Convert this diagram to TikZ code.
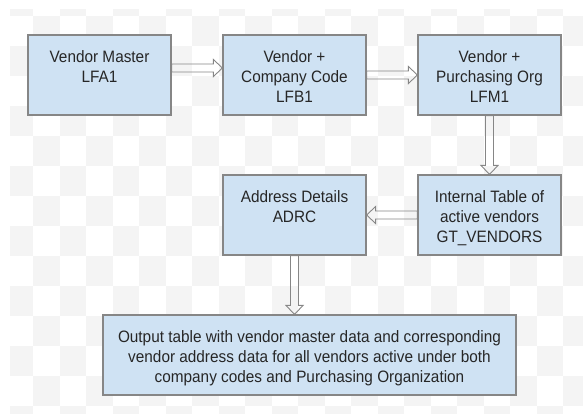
\documentclass[tikz,border=0pt]{standalone}
\usepackage{fontspec}
\usepackage{tikz}
\usetikzlibrary{calc}

\newfontfamily\drawfont[FakeStretch=0.93]{Liberation Sans}

\definecolor{boxfill}{HTML}{CFE2F3}
\definecolor{boxline}{HTML}{868686}
\definecolor{textcol}{HTML}{262626}
\definecolor{checker}{HTML}{F4F4F4}

% text of a box, set from the top
\newcommand{\boxtext}[2][143pt]{\parbox[c][80pt][t]{#1}{\centering\vspace*{15.5pt}#2}}

\begin{document}
\begin{tikzpicture}[x=1pt, y=-1pt,
                    datatable/.style={draw=boxline, fill=boxfill, line width=1.2pt, inner sep=0pt, text=textcol,
                                      font=\drawfont\fontsize{16.5}{20}\selectfont},
                    flow/.style={draw=boxline, fill=boxfill, line width=0.9pt, line join=miter,
                                 to path={($(\tikztotarget)!9pt!(\tikztostart)$) coordinate (neck)
                                          ($(\tikztostart)!4pt!90:(\tikztotarget)$) -- ($(neck)!4pt!-90:(\tikztostart)$)
                                          -- ($(neck)!8.5pt!-90:(\tikztostart)$) -- (\tikztotarget)
                                          -- ($(neck)!8.5pt!90:(\tikztostart)$) -- ($(neck)!4pt!90:(\tikztostart)$)
                                          -- ($(\tikztostart)!4pt!-90:(\tikztotarget)$) -- cycle}}]

	\useasboundingbox (0,0) rectangle (583,413);

	% checkered backdrop
	\begin{scope}
	\clip (10,9.5) rectangle (583,413);
	\foreach \r in {-1,...,13}
	  \foreach \c in {-1,...,21}{
	    \pgfmathtruncatemacro{\odd}{mod(\r+\c+2,2)}
	    \ifnum\odd=1 \fill[checker] ({6.5+26.5*\c},{16+30*\r}) rectangle +(26.5,30);\fi
	  }
	\end{scope}

	\node[datatable] (VendMaster) at (99.5,75) {\boxtext{Vendor Master\\LFA1}};
	
	\node[datatable] (CompCode) at (294.5,75) {\boxtext{Vendor +\\Company Code\\LFB1}};
	
	\node[datatable] (PurchOrg) at (489.5,75) {\boxtext{Vendor +\\Purchasing Org\\LFM1}};
	
	\node[datatable] (IntTable) at (489.5,215) {\boxtext{Internal Table of\\active vendors\\GT\_VENDORS}};
	
	\node[datatable] (AddrDetails) at (294.5,215) {\boxtext{Address Details\\ADRC}};
	
	\node[datatable] (Output) at (309.5,355) {\boxtext[413pt]{Output table with vendor master data and corresponding\\vendor address data for all vendors active under both\\company codes and Purchasing Organization}};
	
	
	\path[flow] ([yshift=7pt]VendMaster.east) edge ([yshift=7pt]CompCode.west);
	
	\path[flow] (CompCode.east) edge (PurchOrg.west);
	
	\path[flow] (PurchOrg.south) edge (IntTable.north);
	
	\path[flow] (IntTable.west) edge (AddrDetails.east);
	
	\path[flow] (AddrDetails.south) edge (AddrDetails.south |- Output.north);
	
\end{tikzpicture}
\end{document}
